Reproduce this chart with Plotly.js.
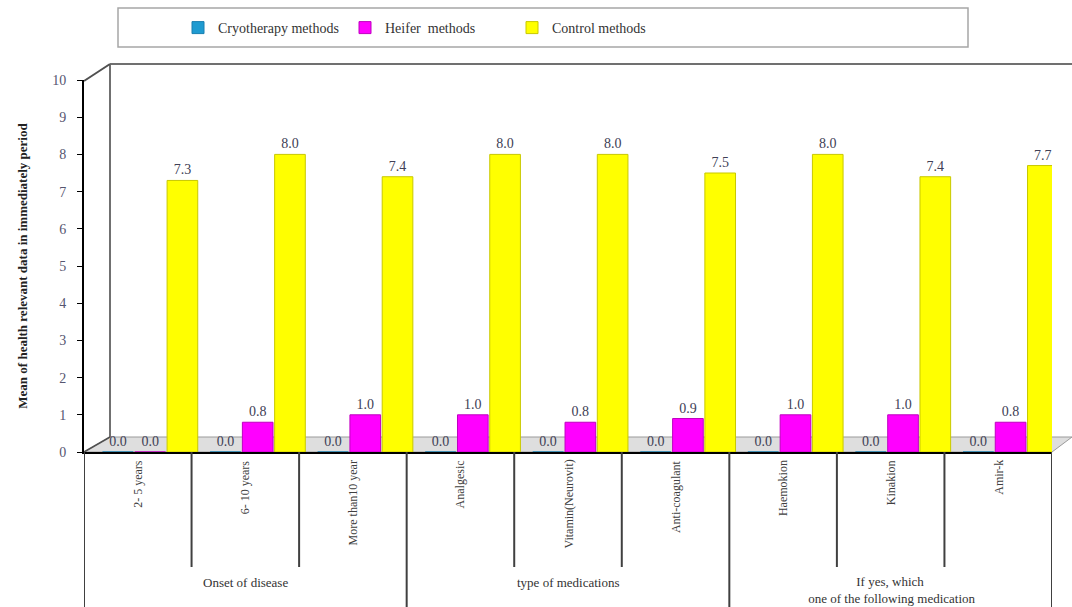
<!DOCTYPE html>
<html>
<head>
<meta charset="utf-8">
<script src="https://cdn.plot.ly/plotly-3.0.1.min.js"></script>
<style>html,body{margin:0;padding:0;background:#fff;}#chart{width:1072px;height:607px;}</style>
</head>
<body>
<div id="chart"></div>
<script>
// ---- data ----
const categories = ["2- 5 years", "6- 10 years", "More than10 year", "Analgesic", "Vitamin(Neurovit)", "Anti-coagulant", "Haemokion", "Kinakion", "Amir-k"];
const groupLabels = ["Onset of disease", "type of medications", "If yes, which<br> one of the following medication"];
const groupSizes = [3, 3, 3];
const seriesNames = ["Cryotherapy methods", "Heifer\u00a0 methods", "Control methods"];
const cryotherapy = [0.0, 0.0, 0.0, 0.0, 0.0, 0.0, 0.0, 0.0, 0.0];
const heifer = [0.0, 0.8, 1.0, 1.0, 0.8, 0.9, 1.0, 1.0, 0.8];
const control = [7.3, 8.0, 7.4, 8.0, 8.0, 7.5, 8.0, 7.4, 7.7];
const yTicks = [0, 1, 2, 3, 4, 5, 6, 7, 8, 9, 10];

// ---- layout constants ----
const W = 1072, H = 607;
const M = {l: 84, r: 20, t: 80, b: 155};
const PW = W - M.l - M.r, PH = H - M.t - M.b;
const depth = 0.115; // 3D depth shift of bars relative to front axis (category units)
const px = v => (v - M.l) / PW;           // pixel x -> paper x
const py = v => (H - M.b - v) / PH;       // pixel y -> paper y

const labelFont = {family: "Liberation Serif, Times New Roman, serif", size: 14, color: "#404055"};
const colors = ["#1f9bd1", "#ff00ff", "#ffff00"];
const edges = ["#1a7fb0", "#c000c0", "#c8c800"];
const values = [cryotherapy, heifer, control];

const traces = values.map((vals, i) => ({
  type: "bar",
  name: seriesNames[i],
  x: categories,
  y: vals,
  marker: {color: colors[i], line: {color: edges[i], width: 1}},
  texttemplate: "%{y:.1f}",
  textposition: "outside",
  textfont: labelFont,
  cliponaxis: false,
  hoverinfo: "x+y+name"
}));

const shapes = [];
// floor
shapes.push({type: "path", xref: "paper", yref: "paper", layer: "below",
  path: `M ${px(84)} ${py(452)} L ${px(110)} ${py(437)} L ${px(1072)} ${py(437)} L ${px(1052)} ${py(452)} Z`,
  fillcolor: "#dedede", line: {color: "#9a9a9a", width: 1}});
// back wall edges
shapes.push({type: "line", xref: "paper", yref: "paper", layer: "below",
  x0: px(110), y0: py(64), x1: px(110), y1: py(437), line: {color: "#707070", width: 2}});
shapes.push({type: "line", xref: "paper", yref: "paper", layer: "below",
  x0: px(110), y0: py(64), x1: px(1072), y1: py(64), line: {color: "#707070", width: 2}});
shapes.push({type: "line", xref: "paper", yref: "paper", layer: "below",
  x0: px(84), y0: py(81), x1: px(110), y1: py(64), line: {color: "#505050", width: 2}});
shapes.push({type: "line", xref: "paper", yref: "paper", layer: "below",
  x0: px(84), y0: py(452), x1: px(110), y1: py(437), line: {color: "#505050", width: 1.5}});
// legend box
shapes.push({type: "rect", xref: "paper", yref: "paper", layer: "below",
  x0: px(118), x1: px(968), y0: py(47), y1: py(8), fillcolor: "#ffffff", line: {color: "#a6a6a6", width: 1.5}});

// category dividers below axis
const groupEdges = [0];
groupSizes.reduce((acc, n) => { acc += n; groupEdges.push(acc); return acc; }, 0);
for (let k = 0; k <= categories.length; k++) {
  const isLong = groupEdges.includes(k);
  shapes.push({type: "line", xref: "x", yref: "paper",
    x0: k - 0.5 - depth, x1: k - 0.5 - depth, y0: 0, y1: isLong ? py(607) : py(567),
    line: {color: "#404040", width: 2}});
}

const annotations = [];
categories.forEach((c, k) => {
  annotations.push({xref: "x", yref: "paper", x: k - depth, y: py(458), text: c,
    textangle: -90, showarrow: false, xanchor: "center", yanchor: "top",
    font: {family: "Liberation Serif, Times New Roman, serif", size: 12, color: "#404040"}});
});
let start = 0;
groupLabels.forEach((g, i) => {
  const mid = start + (groupSizes[i] - 1) / 2;
  const twoLine = g.includes("<br>");
  annotations.push({xref: "x", yref: "paper", x: mid - depth, y: py(twoLine ? 590 : 582), text: g,
    showarrow: false, xanchor: "center", yanchor: "middle",
    font: {family: "Liberation Serif, Times New Roman, serif", size: 13, color: "#333333"}});
  start += groupSizes[i];
});

const layout = {
  width: W, height: H,
  margin: M,
  paper_bgcolor: "#ffffff",
  plot_bgcolor: "rgba(0,0,0,0)",
  barmode: "group",
  bargap: 0.1,
  bargroupgap: 0.05,
  showlegend: true,
  legend: {orientation: "h", x: px(178), xanchor: "left", y: py(28), yanchor: "middle",
    bgcolor: "rgba(0,0,0,0)", borderwidth: 0, entrywidth: 122, entrywidthmode: "pixels",
    itemwidth: 30, traceorder: "normal",
    font: {family: "Liberation Serif, Times New Roman, serif", size: 14, color: "#333333"}},
  xaxis: {type: "category", range: [-0.5 - depth, categories.length - 0.5 - depth],
    showticklabels: false, ticks: "", showgrid: false, zeroline: false,
    showline: true, linecolor: "#000000", linewidth: 2, fixedrange: true},
  yaxis: {range: [0, 10], tickvals: yTicks, ticktext: yTicks.map(String),
    ticks: "outside", ticklen: 5, tickcolor: "#000000", showgrid: false, zeroline: false,
    showline: true, linecolor: "#000000", linewidth: 2, ticklabelstandoff: 8,
    tickfont: {family: "Liberation Serif, Times New Roman, serif", size: 14, color: "#555570"},
    title: {text: "<b>Mean of health relevant data in immediately period</b>", standoff: 22,
      font: {family: "Liberation Serif, Times New Roman, serif", size: 13, color: "#222222"}},
    fixedrange: true},
  shapes: shapes,
  annotations: annotations
};

Plotly.newPlot("chart", traces, layout, {displayModeBar: false, staticPlot: true});
</script>
</body>
</html>
